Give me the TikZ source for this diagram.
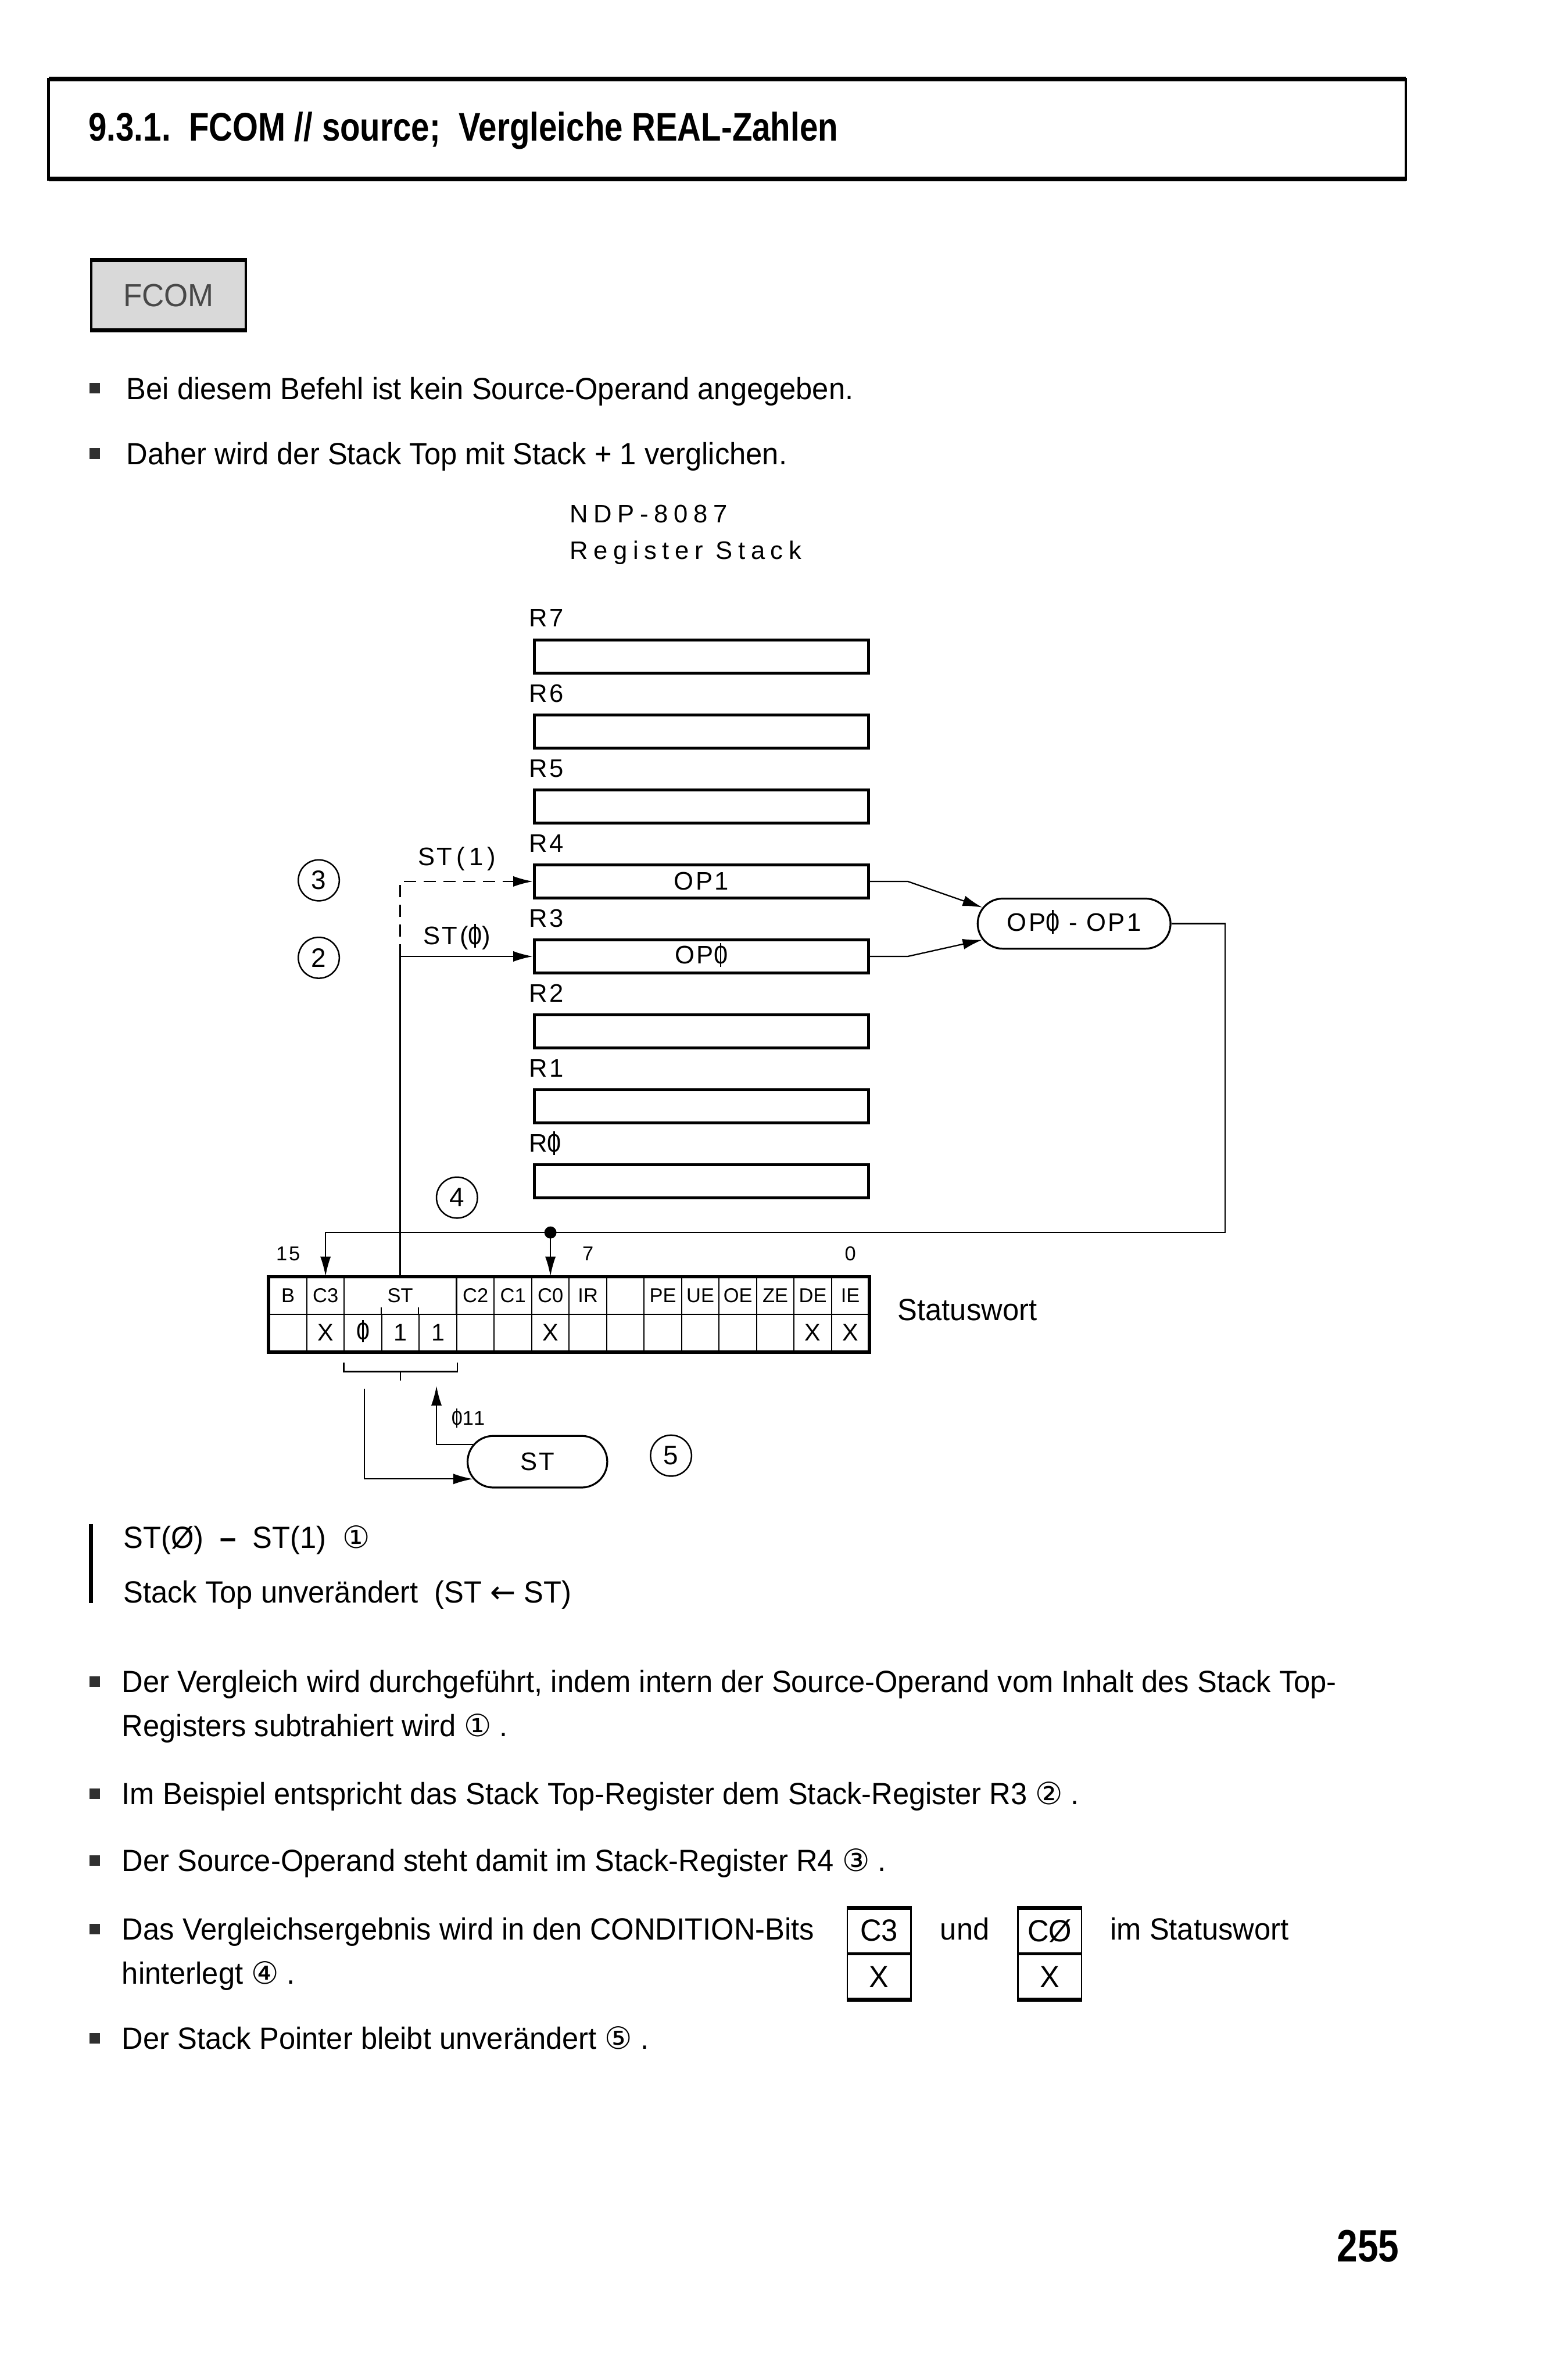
\documentclass[tikz,border=0pt]{standalone}
\usepackage{fontspec}
\setmainfont{Liberation Sans}[FakeStretch=0.96]
\newfontfamily\titlefont{Liberation Sans}[FakeStretch=0.82]
\newfontfamily\dinfont{Liberation Sans}[LetterSpace=8]
\newfontfamily\symfont{DejaVu Sans}
\usepackage{xcolor}
\usepackage{tikz}
\usetikzlibrary{arrows.meta,calc,positioning,shapes.misc}
\definecolor{Ink}{HTML}{1A1A1A}
\definecolor{Shade}{HTML}{D9D9D9}
\definecolor{Bullet}{HTML}{303030}
\newcommand{\dz}{\ooalign{0\cr\hidewidth\rule[-0.12em]{0.06em}{0.94em}\hidewidth\cr}}
\newcommand{\bulletline}[4]{%
  \fill[Bullet] (62.5,#1) ++(-3.5,-10.7) rectangle ++(7,7);
  \node[bodytext] (#3) at (#2,#1) {#4};}
\tikzset{
  regbox/.style={draw,line width=1.1pt,minimum width=44mm,minimum height=4.4mm,inner sep=0pt,
                 font=\dinfont\fontsize{9.5}{11}\selectfont},
  reglabel/.style={anchor=base west,inner sep=0pt,font=\dinfont\fontsize{9.5}{11}\selectfont},
  flow/.style={line width=0.5pt,-{Latex[length=2.6mm,width=1.4mm]}},
  wire/.style={line width=0.5pt},
  pill/.style={rounded rectangle,draw,line width=0.7pt,inner sep=0pt,font=\dinfont\fontsize{9.5}{11}\selectfont},
  marker/.style={circle,draw,line width=0.55pt,minimum size=5.4mm,inner sep=0pt,font=\dinfont\fontsize{10}{12}\selectfont},
  bitcell/.style={draw,line width=0.45pt,minimum width=4.938mm,minimum height=4.9mm,inner sep=0pt,
                  font=\dinfont\fontsize{7.5}{9}\selectfont\addfontfeature{LetterSpace=0}},
  bitval/.style={bitcell,font=\dinfont\fontsize{9}{10}\selectfont},
  bitnum/.style={inner sep=0pt,font=\dinfont\fontsize{7.5}{9}\selectfont},
  bodytext/.style={anchor=base west,inner sep=0pt,font=\fontsize{11.5}{14}\selectfont},
  condbox/.style={draw,line width=0.5pt,minimum width=8.4mm,minimum height=5.9mm,inner sep=0pt,
                  font=\fontsize{11.5}{14}\selectfont}
}

\begin{document}
\begin{tikzpicture}[x=0.2mm,y=-0.2mm]
  \useasboundingbox (0,0) rectangle (1016,1568);
  \draw[line width=1pt] (32,52) rectangle (926,118);
  \draw[line width=1.8pt] (32,52) -- (926,52) (32,118) -- (926,118);
  \node[anchor=base west,inner sep=0pt,font=\titlefont\bfseries\fontsize{15}{18}\selectfont] (title)
    at (58,93) {9.3.1.\ \ FCOM // source;\ \ Vergleiche REAL-Zahlen};

  \node[draw,fill=Shade,line width=0.8pt,minimum width=20.4mm,minimum height=9mm,text=Ink!80,
        font=\fontsize{12}{14}\selectfont] (fcom) at (111,194.5) {FCOM};
  \draw[line width=1.6pt] (fcom.north west) -- (fcom.north east) (fcom.south west) -- (fcom.south east);

  \bulletline{263}{83}{b1}{Bei diesem Befehl ist kein Source-Operand angegeben.}
  \bulletline{306}{83}{b2}{Daher wird der Stack Top mit Stack + 1 verglichen.}

  \node[reglabel,font=\dinfont\fontsize{9.5}{11}\selectfont\addfontfeature{LetterSpace=22}] (ndp) at (375,344.5) {NDP-8087};
  \node[reglabel,font=\dinfont\fontsize{9.5}{11}\selectfont\addfontfeature{LetterSpace=22}] (rstack) at (375,368.5) {Register Stack};

  \foreach \r/\lab/\op [count=\k from 0] in {r7/7/,r6/6/,r5/5/,r4/4/OP1,r3/3/OP\dz,r2/2/,r1/1/,r0/\dz/}{
    \node[regbox] (\r) at (462,{432.5+49.4*\k}) {\op};
    \node[reglabel] (lab\r) at ($(\r.north west)+(-3,-7.5)$) {R\lab};
  }

  \node[marker] (m3) at (210,580) {3};
  \node[marker] (m2) at (210,631) {2};
  \node[marker] (m4) at (301,789) {4};
  \node[marker] (m5) at (442,959) {5};
  \node[inner sep=0pt,font=\dinfont\fontsize{9.5}{11}\selectfont] (st1) at (301,566) {ST\,(\,1\,)};
  \node[inner sep=0pt,font=\dinfont\fontsize{9.5}{11}\selectfont] (st0) at (301,618) {ST(\dz)};

  \node[pill,minimum width=25.4mm,minimum height=6.6mm] (diff) at (707.5,608.5) {OP\dz\ - OP1};
  \draw[flow] (r4.east) -- ++(25,0) -- (diff.170);
  \draw[flow] (r3.east) -- ++(25,0) -- (diff.190);

  \foreach \lab/\i in {B/0,C3/1,C2/5,C1/6,C0/7,IR/8,/9,PE/10,UE/11,OE/12,ZE/13,DE/14,IE/15}
    \node[bitcell] (u\i) at ({177.4+24.69*(\i+0.5)},853.5) {\lab};
  \node[bitcell,minimum width=14.81mm] (ust) at (263.6,853.5) {ST};
  \foreach \lab [count=\i from 0] in {,X,\dz,1,1,,,X,,,,,,,X,X}
    \node[bitval] (v\i) at ({177.4+24.69*(\i+0.5)},878) {\lab};
  \draw[line width=1.3pt] (u0.north west) rectangle (v15.south east);
  \foreach \i in {3,4}
    \draw[line width=0.45pt] (v\i.north west) -- ++(0,-4);
  \node[bitnum,above=2mm of u0] (n15) {15};
  \node[bitnum,above=2mm of u8] (n7) {7};
  \node[bitnum,above=2mm of u15] (n0) {0};
  \node[bodytext] (swlab) at (591,870) {Statuswort};

  \coordinate (busR) at (807,812);
  \draw[flow] (diff.east) -| (busR) -| (u1.north);
  \coordinate (tap) at (u7.north |- busR);
  \fill (tap) circle[radius=0.8mm];
  \draw[flow] (tap) -- (u7.north);
  \draw[flow] (ust.north) |- (r3.west);
  \draw[flow,dash pattern=on 1.6mm off 1mm] (ust.north |- r3.west) |- (r4.west);

  \draw[wire] ($(v2.south west)+(0,7)$) -- ++(0,6) -| ($(v4.south east)+(0,7)$);
  \draw[wire] ($(v3.south)+(0,13)$) -- ++(0,6);
  \node[pill,minimum width=18.4mm,minimum height=6.8mm] (stn) at (354,963) {ST};
  \coordinate (stout) at (240,915);
  \coordinate (stin) at (287.5,913);
  \draw[flow] (stout) |- (stn.195);
  \draw[flow] (stn.165) -| (stin);
  \node[bitnum,anchor=west] (stval) at (297,935) {\dz 11};

  \draw[line width=1.5pt] (60,1004) -- (60,1056);
  \node[bodytext] (cmp) at (81,1020) {ST(Ø)\ \ {\bfseries –}\ \ ST(1)\ \ {\symfont ①}};
  \node[bodytext] (keep) at (81,1056) {Stack Top unverändert\ \ (ST {\symfont ←} ST)};

  \bulletline{1115}{80}{t1}{Der Vergleich wird durchgeführt, indem intern der Source-Operand vom Inhalt des Stack Top-}
  \node[bodytext] (t1b) at (80,1144) {Registers subtrahiert wird\ {\symfont ①}\ .};
  \bulletline{1189}{80}{t2}{Im Beispiel entspricht das Stack Top-Register dem Stack-Register R3\ {\symfont ②}\ .}
  \bulletline{1233}{80}{t3}{Der Source-Operand steht damit im Stack-Register R4\ {\symfont ③}\ .}
  \bulletline{1278}{80}{t4}{Das Vergleichsergebnis wird in den CONDITION-Bits}
  \node[bodytext] (t4b) at (80,1307) {hinterlegt\ {\symfont ④}\ .};
  \bulletline{1350}{80}{t5}{Der Stack Pointer bleibt unverändert\ {\symfont ⑤}\ .}

  \node[condbox] (c3a) at (579,1272) {C3};
  \node[condbox,below=0pt of c3a] (c3b) {X};
  \draw[line width=1.5pt] (c3a.north west) -- (c3a.north east) (c3b.south west) -- (c3b.south east);
  \node[bodytext] (und) at (619,1278) {und};
  \node[condbox] (c0a) at (691.5,1272) {CØ};
  \node[condbox,below=0pt of c0a] (c0b) {X};
  \draw[line width=1.5pt] (c0a.north west) -- (c0a.north east) (c0b.south west) -- (c0b.south east);
  \node[bodytext] (imsw) at (731,1278) {im Statuswort};

  \node[anchor=base east,inner sep=0pt,font=\titlefont\bfseries\fontsize{17}{20}\selectfont] (page)
    at (922,1490) {255};
\end{tikzpicture}
\end{document}
